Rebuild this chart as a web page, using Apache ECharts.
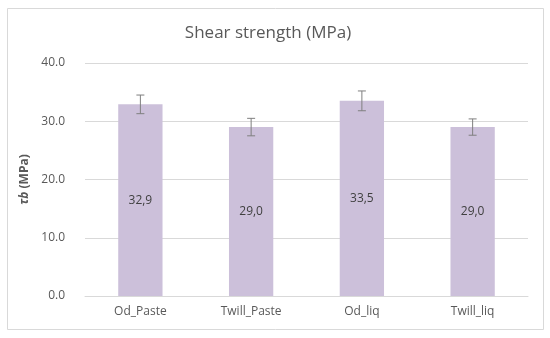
<!DOCTYPE html>
<html>
<head>
<meta charset="utf-8">
<script src="https://cdn.jsdelivr.net/npm/echarts@6/dist/echarts.min.js"></script>
<style>html,body{margin:0;padding:0;background:#fff}#c{width:550px;height:338px}</style>
</head>
<body>
<div id="c"></div>
<script>
const categories = ['Od_Paste', 'Twill_Paste', 'Od_liq', 'Twill_liq'];
const values = [32.9, 29.0, 33.5, 29.0];
const errors = [1.6, 1.5, 1.7, 1.4];
const yTicks = [0, 10, 20, 30, 40];

const FONT = '"Open Sans", "Liberation Sans", sans-serif';
const chart = echarts.init(document.getElementById('c'));
chart.setOption({
  animation: false,
  backgroundColor: '#fff',
  textStyle: { fontFamily: FONT },
  graphic: [{
    type: 'rect', shape: { x: 7.5, y: 8.5, width: 536, height: 321 },
    style: { fill: 'none', stroke: '#d9d9d9', lineWidth: 1 }
  }],
  title: {
    text: 'Shear strength (MPa)', left: 263, top: 20, textAlign: 'center',
    textStyle: { fontFamily: FONT, fontSize: 17, fontWeight: 'normal', color: '#595959' }
  },
  grid: { left: 85, right: 22, top: 63, bottom: 42 },
  xAxis: {
    type: 'category', data: categories,
    axisLine: { lineStyle: { color: '#d9d9d9' } },
    axisTick: { show: false },
    axisLabel: { color: '#595959', fontSize: 12, margin: 10, fontFamily: FONT }
  },
  yAxis: {
    type: 'value', min: yTicks[0], max: yTicks[yTicks.length - 1], interval: 10,
    name: '{i|τb} {b|(MPa)}', nameLocation: 'middle', nameGap: 45, nameRotate: 90,
    nameTextStyle: {
      rich: {
        i: { fontStyle: 'italic', fontWeight: 'bold', color: '#595959', fontSize: 12, fontFamily: FONT },
        b: { fontWeight: 'bold', color: '#595959', fontSize: 12, fontFamily: FONT }
      }
    },
    axisLine: { show: false }, axisTick: { show: false },
    splitLine: { lineStyle: { color: '#d9d9d9' } },
    axisLabel: { color: '#595959', fontSize: 12, margin: 20, formatter: v => v.toFixed(1), fontFamily: FONT }
  },
  series: [{
    type: 'bar', data: values, barWidth: '40%',
    itemStyle: { color: '#ccc0da' },
    label: {
      show: true, position: 'inside', color: '#404040', fontSize: 12, fontFamily: FONT,
      formatter: p => p.value.toFixed(1).replace('.', ',')
    }
  }, {
    type: 'custom',
    data: values.map((v, i) => [i, v - errors[i], v + errors[i]]),
    renderItem: function (params, api) {
      const lo = api.coord([api.value(0), api.value(1)]);
      const hi = api.coord([api.value(0), api.value(2)]);
      const w = 4;
      const st = { stroke: '#7f7f7f', lineWidth: 1 };
      return {
        type: 'group', children: [
          { type: 'line', shape: { x1: lo[0], y1: lo[1], x2: hi[0], y2: hi[1] }, style: st },
          { type: 'line', shape: { x1: lo[0] - w, y1: lo[1], x2: lo[0] + w, y2: lo[1] }, style: st },
          { type: 'line', shape: { x1: hi[0] - w, y1: hi[1], x2: hi[0] + w, y2: hi[1] }, style: st }
        ]
      };
    },
    z: 5
  }]
});
</script>
</body>
</html>
